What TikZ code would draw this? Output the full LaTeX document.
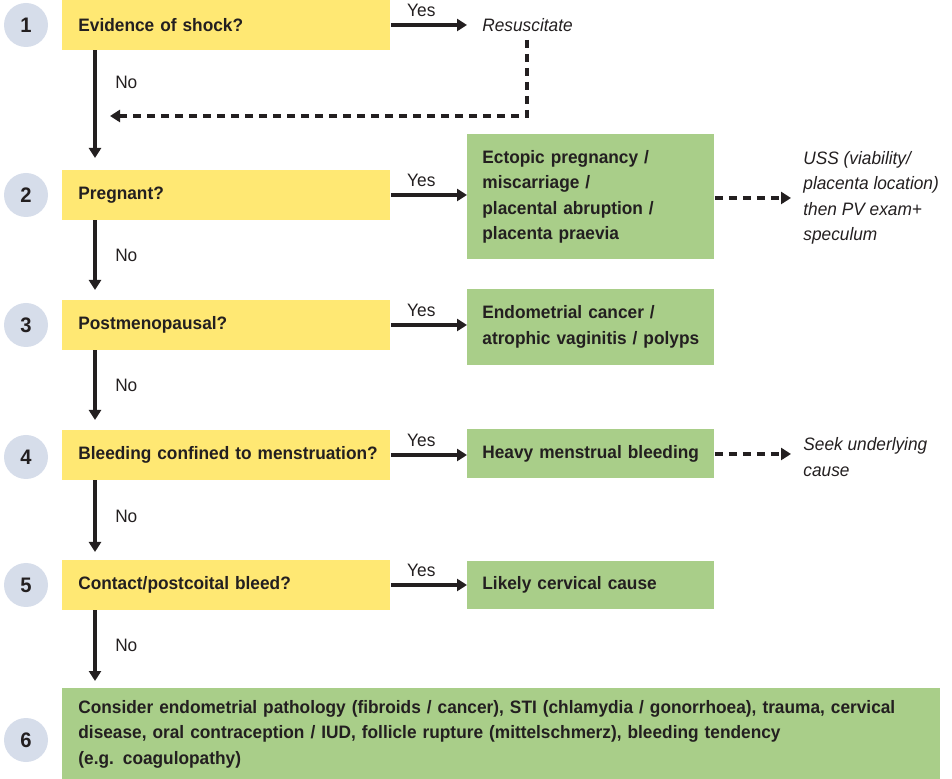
\documentclass[tikz,border=0pt]{standalone}
\usepackage{fontspec}
\setmainfont[FakeStretch=0.96]{Liberation Sans}
\usetikzlibrary{positioning, arrows.meta}
\definecolor{qyellow}{HTML}{FFE873}
\definecolor{dgreen}{HTML}{A9CE89}
\definecolor{numblue}{HTML}{D6DDEA}
\definecolor{ink}{HTML}{231F20}

\begin{document}
\begin{tikzpicture}[x=0.5pt, y=-0.5pt, font=\fontsize{9}{12.75}\selectfont, text=ink,
    num/.style={circle, fill=numblue, minimum size=22pt, inner sep=0pt, font=\fontsize{10.5}{12}\selectfont\bfseries},
    question/.style={rectangle, fill=qyellow, anchor=west, minimum height=25pt, text width=148pt, inner xsep=8pt, align=left, font=\fontsize{9}{12.75}\selectfont\bfseries},
    diag/.style={rectangle, fill=dgreen, anchor=west, text width=108.5pt, inner xsep=7.5pt, align=left, font=\fontsize{9}{12.75}\selectfont\bfseries},
    note/.style={anchor=west, align=left, inner xsep=6pt, font=\fontsize{9}{12.75}\selectfont\itshape},
    yes/.style={draw=ink, line width=1.6pt, -{Triangle[width=6pt,length=5pt]}},
    maybe/.style={yes, dash pattern=on 4pt off 3pt}]
    \useasboundingbox (0,0) rectangle (952,779);

    % step numbers
    \node[num] (n1) at (26,25) {1};
    \node[num] (n2) at (26,195) {2};
    \node[num] (n3) at (26,325) {3};
    \node[num] (n4) at (26,457) {4};
    \node[num] (n5) at (26,585) {5};
    \node[num] (n6) at (26,740) {6};

    % questions
    \node[question] (q1) at (62,25) {Evidence of shock?};
    \node[question] (q2) at (62,195) {Pregnant?};
    \node[question] (q3) at (62,325) {Postmenopausal?};
    \node[question] (q4) at (62,455) {\mbox{Bleeding confined to menstruation?}};
    \node[question] (q5) at (62,585) {Contact/postcoital bleed?};

    % outcomes
    \node[note, inner xsep=7.5pt] (res) at (467,25) {Resuscitate};
    \node[diag, minimum height=62.5pt] (d2) at (467,197) {Ectopic pregnancy /\\ miscarriage /\\ placental abruption /\\ placenta praevia};
    \node[diag, minimum height=38pt] (d3) at (467,327) {Endometrial cancer /\\ atrophic vaginitis / polyps};
    \node[diag, minimum height=24.5pt] (d4) at (467,454) {Heavy menstrual bleeding};
    \node[diag, minimum height=24pt] (d5) at (467,585) {Likely cervical cause};
    \node[diag, anchor=north west, minimum height=45.5pt, text width=423pt, inner xsep=8pt] (d6) at (62,688)
        {Consider endometrial pathology (fibroids / cancer), STI (chlamydia / gonorrhoea), trauma, cervical\\
         disease, oral contraception / IUD, follicle rupture (mittelschmerz), bleeding tendency\\
         (e.g. coagulopathy)};

    % notes
    \node[note] (m2) at (791,198) {USS (viability/\\ placenta location)\\ then PV exam+\\ speculum};
    \node[note] (m4) at (791,457) {Seek underlying\\ cause};

    \coordinate (drop) at (527,40);
    \coordinate (back) at (110,116);
    \coordinate (s1) at (95,158);
    \coordinate (s2) at (95,290);
    \coordinate (s3) at (95,420);
    \coordinate (s4) at (95,552);
    \coordinate (s5) at (95,681);

    % yes branches
    \draw[yes] (q1.east) -- node[above, pos=0.4] {Yes} (res.west);
    \draw[yes] (q2.east) -- node[above, pos=0.4] {Yes} (d2.west |- q2.east);
    \draw[yes] (q3.east) -- node[above, pos=0.4] {Yes} (d3.west |- q3.east);
    \draw[yes] (q4.east) -- node[above, pos=0.4] {Yes} (d4.west |- q4.east);
    \draw[yes] (q5.east) -- node[above, pos=0.4] {Yes} (d5.west |- q5.east);

    % no branches
    \draw[yes] (q1.south -| s1) -- node[right, pos=0.3, xshift=6pt] {No} (s1);
    \draw[yes] (q2.south -| s2) -- node[right, xshift=6pt] {No} (s2);
    \draw[yes] (q3.south -| s3) -- node[right, xshift=6pt] {No} (s3);
    \draw[yes] (q4.south -| s4) -- node[right, xshift=6pt] {No} (s4);
    \draw[yes] (q5.south -| s5) -- node[right, xshift=6pt] {No} (s5);

    % dashed
    \draw[maybe] (drop) |- (back);
    \draw[maybe] (d2.east |- m2.west) -- (m2.west);
    \draw[maybe] (d4.east) -- (m4.west |- d4.east);
\end{tikzpicture}
\end{document}
